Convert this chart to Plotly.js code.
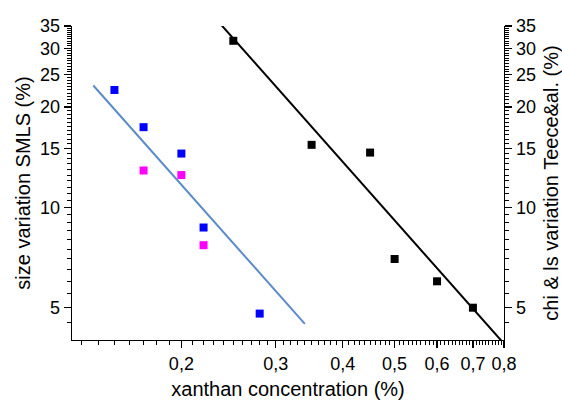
<!DOCTYPE html>
<html>
<head>
<meta charset="utf-8">
<script src="https://cdn.plot.ly/plotly-3.0.1.min.js"></script>
<style>html,body{margin:0;padding:0;background:#fff;}#chart{width:562px;height:400px;}</style>
</head>
<body>
<div id="chart"></div>
<script>
// SMLS data (left axis)
const xBlue = [0.15, 0.17, 0.2, 0.22, 0.28];
const yBlue = [22.5, 17.4, 14.5, 8.7, 4.8];
const xMagenta = [0.17, 0.2, 0.22];
const yMagenta = [12.9, 12.5, 7.7];
// Teece & al. data (right axis)
const xBlack = [0.25, 0.35, 0.45, 0.5, 0.6, 0.7];
const yBlack = [31.6, 15.4, 14.6, 7.0, 6.0, 5.0];
// power-law fit lines (end points)
const fitBlueX = [0.137, 0.34];
const fitBlueY = [23.2, 4.47];
const fitBlackX = [0.238, 0.8];
const fitBlackY = [35.1, 3.9];
// tick labels
const xTickVals = [0.2, 0.3, 0.4, 0.5, 0.6, 0.7, 0.8];
const xTickText = ["0,2", "0,3", "0,4", "0,5", "0,6", "0,7", "0,8"];
const yTickVals = [5, 10, 15, 20, 25, 30, 35];
const yTickText = ["5", "10", "15", "20", "25", "30", "35"];

const xMinor = [];
for (let k = 13; k <= 79; k++) { if (k % 10 !== 0) xMinor.push(k / 100); }
const yMinor = [];
for (let k = 9; k <= 69; k++) { const v = k / 2; if (v % 5 !== 0) yMinor.push(v); }

const FONT = "Liberation Sans, Arial, sans-serif";
const tickFont = {family: FONT, size: 18, color: "#000"};
const titleFont = {family: FONT, size: 20, color: "#000"};

const yRange = [Math.log10(4), Math.log10(35)];

function yAxisBase(side) {
  return {
    type: "log", range: yRange, side: side,
    showline: true, linecolor: "#000", linewidth: 1.3,
    ticks: "outside", ticklen: 7, tickwidth: 1.3, tickcolor: "#000",
    tickmode: "array", tickvals: yTickVals, ticktext: yTickText,
    tickfont: tickFont, showgrid: false, zeroline: false,
    minor: {tickmode: "array", tickvals: yMinor, ticks: "outside", ticklen: 4, tickwidth: 1, tickcolor: "#000", showgrid: false}
  };
}

const traces = [
  {x: fitBlueX, y: fitBlueY, mode: "lines", line: {color: "#5b8bc8", width: 2}, showlegend: false, hoverinfo: "skip"},
  {x: fitBlackX, y: fitBlackY, mode: "lines", line: {color: "#000", width: 2}, yaxis: "y2", showlegend: false, hoverinfo: "skip"},
  {x: xBlue, y: yBlue, mode: "markers", marker: {symbol: "square", size: 8, color: "#0000ff"}, showlegend: false},
  {x: xMagenta, y: yMagenta, mode: "markers", marker: {symbol: "square", size: 8, color: "#ff00ff"}, showlegend: false},
  {x: xBlack, y: yBlack, mode: "markers", marker: {symbol: "square", size: 8, color: "#000"}, yaxis: "y2", showlegend: false}
];

const yaxis = yAxisBase("left");
yaxis.title = {text: "size variation SMLS (%)", font: titleFont, standoff: 4};
const yaxis2 = yAxisBase("right");
yaxis2.overlaying = "y";
yaxis2.title = {text: "chi & ls variation Teece&al. (%)", font: titleFont, standoff: 10};

const layout = {
  width: 562, height: 400,
  margin: {l: 72, r: 58, t: 26, b: 60},
  paper_bgcolor: "#fff", plot_bgcolor: "#fff",
  showlegend: false,
  xaxis: {
    type: "log", range: [Math.log10(0.125), Math.log10(0.8)],
    showline: true, linecolor: "#000", linewidth: 1.3, mirror: false,
    ticks: "outside", ticklen: 7, tickwidth: 1.3, tickcolor: "#000",
    tickmode: "array", tickvals: xTickVals, ticktext: xTickText,
    tickfont: tickFont, showgrid: false, zeroline: false,
    minor: {tickmode: "array", tickvals: xMinor, ticks: "outside", ticklen: 4, tickwidth: 1, tickcolor: "#000", showgrid: false},
    title: {text: "xanthan concentration (%)", font: titleFont, standoff: 12}
  },
  yaxis: yaxis,
  yaxis2: yaxis2
};

Plotly.newPlot("chart", traces, layout, {displayModeBar: false, staticPlot: true});
</script>
</body>
</html>
